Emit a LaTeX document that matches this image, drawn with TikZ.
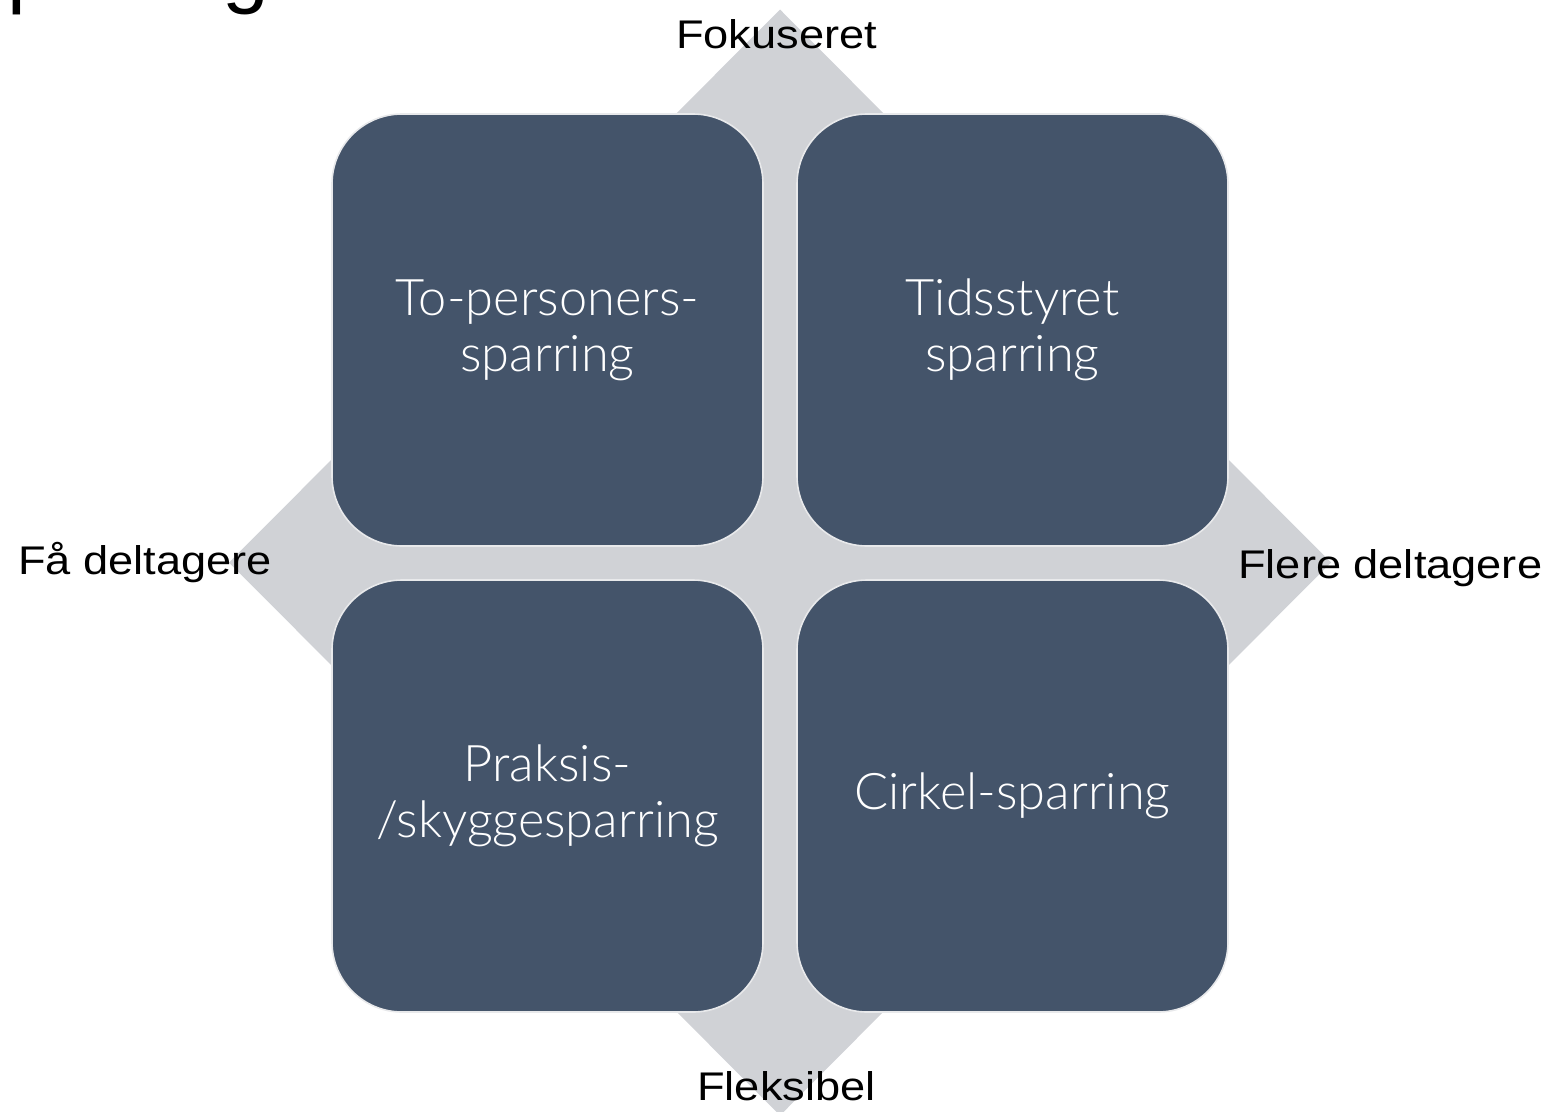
\documentclass[tikz,border=0pt]{standalone}
\usepackage{graphicx}
\usepackage{fontspec}
\setmainfont{Liberation Sans}
\newfontfamily\lightfont{Lato Light}
\definecolor{boxfill}{RGB}{68,84,106}
\definecolor{diafill}{RGB}{208,210,214}
\definecolor{boxline}{RGB}{232,233,235}
\newcommand{\widetext}[1]{\scalebox{1.13}[1]{#1}}
\tikzset{
  quad/.style={draw=boxline, line width=1.6pt, fill=boxfill, rounded corners=70pt,
    minimum width=431pt, minimum height=432pt, inner sep=0pt, text=white,
    align=center, font=\lightfont\fontsize{50.5}{56}\selectfont},
  axislabel/.style={text=black, inner sep=0pt, font=\fontsize{40}{42}\selectfont}
}
\begin{document}
\begin{tikzpicture}[x=1pt,y=-1pt]
\useasboundingbox (0,0) rectangle (1549,1111);
\begin{scope}
\clip (0,0) rectangle (1549,1111);
% cut-off title fragment
\node[anchor=base west, inner sep=0pt, font=\fontsize{84}{90}\selectfont] (title) at (-48.5,-2.5) {Sparring};
% background diamond
\fill[diafill] (780,9.5) -- (1331,562.5) -- (780,1115.5) -- (229,562.5) -- cycle;
\end{scope}
% quadrant boxes
\node[quad] (tl) at (547.5,330) {To-personers-\\sparring};
\node[quad] (tr) at (1012.5,330) {Tidsstyret\\sparring};
\node[quad] (bl) at (547.5,796) {Praksis-\\/skyggesparring};
\node[quad] (br) at (1012.5,796) {Cirkel-sparring};
% axis labels
\node[axislabel, anchor=base] (top) at (776.5,48) {\widetext{Fokuseret}};
\node[axislabel, anchor=base] (bot) at (786.5,1100) {\widetext{Fleksibel}};
\node[axislabel, anchor=base west] (left) at (18,574) {\widetext{Få deltagere}};
\node[axislabel, anchor=base west] (right) at (1238,578) {\widetext{Flere deltagere}};
\end{tikzpicture}
\end{document}
